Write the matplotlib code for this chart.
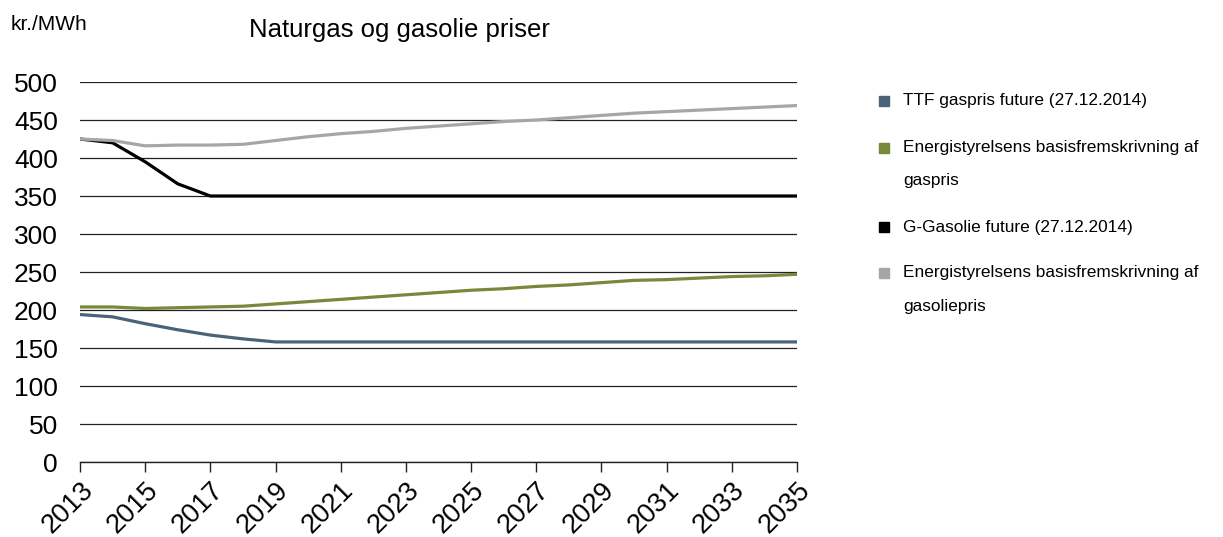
import matplotlib
matplotlib.use("Agg")
import matplotlib.pyplot as plt
from matplotlib.lines import Line2D

plt.rcParams['font.family'] = ['Liberation Sans', 'DejaVu Sans']

years = list(range(2013, 2036))

ttf_gas = [194, 191, 182, 174, 167, 162, 158, 158, 158, 158, 158, 158,
           158, 158, 158, 158, 158, 158, 158, 158, 158, 158, 158]
ens_gas = [204, 204, 202, 203, 204, 205, 208, 211, 214, 217, 220, 223,
           226, 228, 231, 233, 236, 239, 240, 242, 244, 245, 247]
gasolie_future = [425, 420, 395, 366, 350, 350, 350, 350, 350, 350, 350, 350,
                  350, 350, 350, 350, 350, 350, 350, 350, 350, 350, 350]
ens_gasolie = [425, 423, 416, 417, 417, 418, 423, 428, 432, 435, 439, 442,
               445, 448, 450, 453, 456, 459, 461, 463, 465, 467, 469]

labels = [["TTF gaspris future (27.12.2014)"],
          ["Energistyrelsens basisfremskrivning af", "gaspris"],
          ["G-Gasolie future (27.12.2014)"],
          ["Energistyrelsens basisfremskrivning af", "gasoliepris"]]
colors = ["#4a6378", "#77893a", "#000000", "#a6a6a6"]
series = [ttf_gas, ens_gas, gasolie_future, ens_gasolie]

y_ticks = list(range(0, 501, 50))
x_ticks = list(range(2013, 2036, 2))

W, H = 1223, 537
fig = plt.figure(figsize=(W / 100, H / 100), dpi=100)
ax = fig.add_axes([80 / W, (H - 462) / H, (797 - 80) / W, (462 - 82) / H])

for vals, col in zip(series, colors):
    ax.plot(years, vals, color=col, lw=2.3, solid_capstyle='butt', zorder=3)

ax.set_xlim(2013, 2035)
ax.set_ylim(0, 500)
ax.set_yticks(y_ticks)
ax.set_xticks(x_ticks)
ax.set_xticklabels([str(x) for x in x_ticks], rotation=45, ha='right',
                   va='top', rotation_mode='anchor', fontsize=19.5)
ax.set_yticklabels([str(v) for v in y_ticks], fontsize=19)
ax.yaxis.grid(True, color='#222222', lw=0.9)
ax.set_axisbelow(True)
for s in ['left', 'right', 'top']:
    ax.spines[s].set_visible(False)
ax.spines['bottom'].set_color('#222222')
ax.spines['bottom'].set_linewidth(1.0)
ax.tick_params(axis='y', length=0, pad=16)
ax.tick_params(axis='x', length=7, width=1.0, color='#222222', pad=4)

fig.text(11 / W, 1 - 24 / H, "kr./MWh", fontsize=15, va='center', ha='left')
fig.text(249 / W, 1 - 30 / H, "Naturgas og gasolie priser", fontsize=18.5,
         va='center', ha='left')

# legend drawn by hand: square swatch + label lines
leg_y = [101, 148, 227, 273]
line_gap = 33
for lines, col, yy in zip(labels, colors, leg_y):
    fig.add_artist(Line2D([884 / W], [1 - yy / H], marker='s', markersize=6.5,
                          color=col, linestyle='none', transform=fig.transFigure))
    for i, txt in enumerate(lines):
        fig.text(903 / W, 1 - (yy + i * line_gap) / H, txt, fontsize=12.4,
                 va='center', ha='left')

fig.savefig("out.png", dpi=100)
